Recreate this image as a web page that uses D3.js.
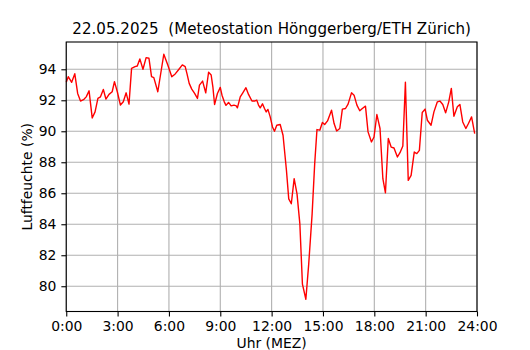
<!DOCTYPE html>
<html>
<head>
<meta charset="utf-8">
<script src="https://cdn.jsdelivr.net/npm/d3@7"></script>
<style>
  body { margin: 0; background: #fff; }
  svg { display: block; font-family: "DejaVu Sans", sans-serif; }
  .axis text { fill: #000; font-size: 13.9px; font-family: "DejaVu Sans", sans-serif; }
</style>
</head>
<body>
<svg id="chart" width="530" height="350"></svg>
<script>
// minutes since midnight, relative humidity in %
var minutes = [0, 7, 19, 30, 40, 50, 62, 70, 80, 91, 101, 111, 120, 130, 139, 150, 161, 169, 179, 190,
  200, 210, 220, 229, 241, 249, 258, 269, 280, 290, 299, 307, 321, 342, 356, 370, 382, 393, 407, 417,
  423, 431, 440, 450, 460, 467, 478, 489, 499, 508, 514, 520, 530, 540, 546, 554, 560, 569, 578, 588,
  596, 600, 610, 619, 630, 639, 651, 660, 668, 674, 680, 688, 695, 701, 707, 715, 723, 730, 738, 750,
  760, 772, 780, 789, 799, 809, 819, 828, 840, 850, 862, 871, 879, 889, 898, 906, 916, 930, 939, 948,
  959, 968, 979, 988, 1000, 1009, 1019, 1029, 1038, 1049, 1058, 1070, 1079, 1089, 1100, 1110, 1119, 1129, 1139, 1149,
  1161, 1170, 1180, 1189, 1199, 1209, 1220, 1229, 1238, 1248, 1258, 1266, 1279, 1289, 1301, 1310, 1320, 1330, 1341, 1350,
  1359, 1371, 1380, 1390, 1401, 1410, 1421, 1432]
var humidity = [93.16, 93.52, 93.16, 93.71, 92.44, 91.95, 92.06, 92.22, 92.61, 90.86, 91.25, 92.12, 92.22, 92.70, 92.08, 92.38, 92.55, 93.20, 92.55, 91.69,
  91.90, 92.48, 91.75, 94.06, 94.17, 94.21, 94.67, 94.00, 94.75, 94.71, 93.52, 93.46, 92.55, 94.97, 94.28, 93.52, 93.70, 93.95, 94.28, 94.17,
  93.74, 93.09, 92.72, 92.44, 92.12, 92.98, 93.24, 92.48, 93.81, 93.63, 92.87, 91.73, 92.44, 92.83, 92.33, 91.90, 91.67, 91.86, 91.64, 91.69,
  91.64, 91.51, 92.22, 92.48, 92.81, 92.38, 91.95, 91.95, 92.01, 91.69, 91.51, 91.77, 91.47, 91.25, 91.41, 90.93, 90.28, 90.00, 90.39, 90.44,
  89.74, 87.47, 85.64, 85.32, 86.94, 85.96, 84.02, 80.13, 79.16, 81.43, 84.67, 87.91, 90.11, 90.07, 90.57, 90.44, 90.67, 91.36, 90.50, 90.02,
  90.18, 91.43, 91.47, 91.75, 92.48, 92.33, 91.69, 91.32, 91.47, 91.62, 89.96, 89.31, 89.63, 91.08, 90.18, 86.94, 86.03, 89.53, 88.98, 88.92,
  88.34, 88.62, 89.05, 93.16, 86.83, 87.15, 88.66, 88.56, 88.77, 91.21, 91.43, 90.71, 90.39, 91.25, 91.90, 91.95, 91.73, 91.19, 91.90, 92.77,
  90.97, 91.58, 91.73, 90.60, 90.18, 90.50, 90.93, 89.85]

var xTicks = [0, 180, 360, 540, 720, 900, 1080, 1260, 1440]
var xTickLabels = ['0:00', '3:00', '6:00', '9:00', '12:00', '15:00', '18:00', '21:00', '24:00']
var yTicks = [80, 82, 84, 86, 88, 90, 92, 94]

var mLeft = 66.25, mRight = 477, mTop = 42, mBottom = 311.5,
  tickLen = 4.9, tickPad = 4.9

var svg = d3.select('#chart')

// matplotlib style 5% margin around the data
var yMin = d3.min(humidity), yMax = d3.max(humidity),
  yPad = (yMax - yMin)*0.05

var x = d3.scaleLinear().domain([0, 1440]).range([mLeft, mRight])
var y = d3.scaleLinear().domain([yMin - yPad, yMax + yPad]).range([mBottom, mTop])

// grid
var gridG = svg.append('g').attr('class', 'gridlines')
  .attr('stroke', '#b0b0b0').attr('stroke-width', 1.1)

gridG.selectAll('line.vx').data(xTicks).enter()
  .append('line').attr('class', 'vx')
  .attr('x1', function(d) { return x(d) }).attr('x2', function(d) { return x(d) })
  .attr('y1', mTop).attr('y2', mBottom)

gridG.selectAll('line.hy').data(yTicks).enter()
  .append('line').attr('class', 'hy')
  .attr('x1', mLeft).attr('x2', mRight)
  .attr('y1', function(d) { return y(d) }).attr('y2', function(d) { return y(d) })

// line
var humLine = d3.line()
  .x(function(d, i) { return x(minutes[i]) })
  .y(function(d) { return y(d) })

svg.append('path')
  .datum(humidity)
  .attr('fill', 'none')
  .attr('stroke', '#ff0000')
  .attr('stroke-width', 1.4)
  .attr('stroke-linejoin', 'round')
  .attr('d', humLine)

// frame
svg.append('rect')
  .attr('x', mLeft).attr('y', mTop)
  .attr('width', mRight - mLeft).attr('height', mBottom - mTop)
  .attr('fill', 'none').attr('stroke', '#000').attr('stroke-width', 1.1)

var xAxis = d3.axisBottom(x)
  .tickValues(xTicks)
  .tickFormat(function(d, i) { return xTickLabels[i] })
  .tickSize(tickLen).tickPadding(tickPad).tickSizeOuter(0)

svg.append('g').attr('class', 'axis')
  .attr('transform', 'translate(0,' + mBottom + ')')
  .call(xAxis)
  .call(function(g) {
    g.select('.domain').remove()
    g.selectAll('line').attr('stroke', '#000').attr('stroke-width', 1.1)
  })

var yAxis = d3.axisLeft(y)
  .tickValues(yTicks)
  .tickSize(tickLen).tickPadding(tickPad).tickSizeOuter(0)

svg.append('g').attr('class', 'axis')
  .attr('transform', 'translate(' + mLeft + ',0)')
  .call(yAxis)
  .call(function(g) {
    g.select('.domain').remove()
    g.selectAll('line').attr('stroke', '#000').attr('stroke-width', 1.1)
  })

// labels
svg.append('text')
  .attr('x', (mLeft + mRight)/2).attr('y', 34)
  .attr('text-anchor', 'middle')
  .attr('font-size', '15.1px')
  .style('white-space', 'pre')
  .text('22.05.2025  (Meteostation Hönggerberg/ETH Zürich)')

svg.append('text')
  .attr('x', (mLeft + mRight)/2).attr('y', 348)
  .attr('text-anchor', 'middle')
  .attr('font-size', '13.9px')
  .text('Uhr (MEZ)')

svg.append('text')
  .attr('transform', 'translate(32,' + (mTop + mBottom)/2 + ') rotate(-90)')
  .attr('text-anchor', 'middle')
  .attr('font-size', '13.9px')
  .text('Luftfeuchte (%)')
</script>
</body>
</html>
